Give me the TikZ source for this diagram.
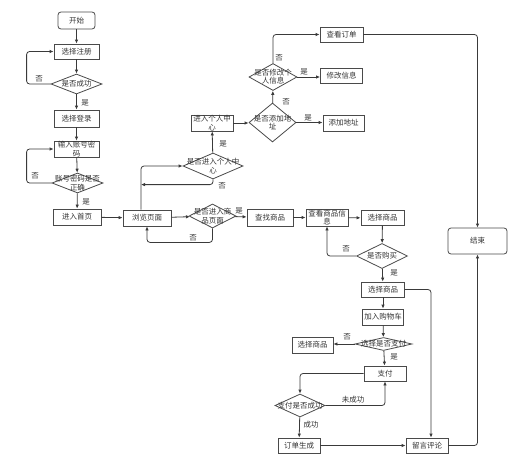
\documentclass[tikz,border=0pt]{standalone}
\usepackage{fontspec}
\newfontfamily\cjk{Noto Sans CJK SC}
\usetikzlibrary{shapes.geometric,arrows.meta}
\definecolor{ln}{HTML}{3A3A3A}
\definecolor{bx}{HTML}{4A4A4A}
\definecolor{tx}{HTML}{333333}
\begin{document}
\begin{tikzpicture}[x=1pt,y=-1pt,
  every node/.style={font=\cjk\fontsize{7.5}{8.3}\selectfont, text=tx},
  box/.style={draw=bx, line width=0.8pt, rectangle, inner sep=0pt, align=center},
  rbox/.style={box, rounded corners=3pt},
  dia/.style={draw=bx, line width=0.8pt, diamond, inner sep=0pt},
  dtxt/.style={inner sep=0pt, align=center},
  lab/.style={inner sep=0pt},
  conn/.style={draw=ln, line width=0.8pt, rounded corners=3pt, -{Latex[length=4pt,width=3.5pt]}}
]
\useasboundingbox (0,0) rectangle (531,463);

% left column
\node[rbox, minimum width=37pt, minimum height=17pt] (start) at (76.5,20.5) {开始};
\node[box, minimum width=45pt, minimum height=15pt] (reg) at (76.5,51.5) {选择注册};
\node[dia, minimum width=51pt, minimum height=20pt] (d1) at (76.5,84) {};
\node[dtxt] (d1t) at (d1) {是否成功};
\node[box, minimum width=45pt, minimum height=17pt] (login) at (76.5,118.5) {选择登录};
\node[box, minimum width=45pt, minimum height=16pt] (input) at (76.5,149) {输入账号密\\码};
\node[dia, minimum width=51pt, minimum height=20pt] (d2) at (77.5,183) {};
\node[dtxt] (d2t) at (d2) {账号密码是否\\正确};
\node[box, minimum width=48pt, minimum height=16pt] (home) at (77,217) {进入首页};

% middle
\node[box, minimum width=48pt, minimum height=16pt] (browse) at (147,218) {浏览页面};
\node[dia, minimum width=60pt, minimum height=26pt] (d3) at (213,166) {};
\node[dtxt] (d3t) at (d3) {是否进入个人中\\心};
\node[dia, minimum width=47pt, minimum height=24pt] (d4) at (212.5,216) {};
\node[dtxt] (d4t) at (d4) {是否进入商\\品页面};
\node[box, minimum width=46pt, minimum height=17pt] (find) at (270,217.5) {查找商品};
\node[box, minimum width=42pt, minimum height=17pt] (info) at (327,217.5) {查看商品信\\息};
\node[box, minimum width=43pt, minimum height=15pt] (sel1) at (382.5,218) {选择商品};
\node[dia, minimum width=51pt, minimum height=25pt] (d5) at (382,256) {};
\node[dtxt] (d5t) at (d5) {是否购买};
\node[box, minimum width=43pt, minimum height=15pt] (sel2) at (383,289.5) {选择商品};
\node[box, minimum width=41pt, minimum height=16pt] (cart) at (383,317) {加入购物车};
\node[dia, minimum width=57pt, minimum height=13pt] (d6) at (383.5,344) {};
\node[dtxt] (d6t) at (d6) {选择是否支付};
\node[box, minimum width=41pt, minimum height=16pt] (sel3) at (312.5,345) {选择商品};
\node[box, minimum width=42pt, minimum height=15pt] (pay) at (385,373.5) {支付};
\node[dia, minimum width=50pt, minimum height=23pt] (d7) at (300,405.5) {};
\node[dtxt] (d7t) at (d7) {支付是否成功};
\node[box, minimum width=42pt, minimum height=15pt] (order) at (299,445.5) {订单生成};
\node[box, minimum width=42pt, minimum height=15pt] (review) at (427,445.5) {留言评论};
\node[rbox, minimum width=59pt, minimum height=26pt] (end) at (477.5,241) {结束};

% upper
\node[box, minimum width=42pt, minimum height=16pt] (personal) at (212,123) {进入个人中\\心};
\node[dia, minimum width=47pt, minimum height=39pt] (d8) at (272.5,122.5) {};
\node[dtxt] (d8t) at (d8) {是否添加地\\址};
\node[dia, minimum width=48pt, minimum height=27pt] (d9) at (273,77) {};
\node[dtxt] (d9t) at (d9) {是否修改个\\人信息};
\node[box, minimum width=41pt, minimum height=16pt] (addaddr) at (343.5,123) {添加地址};
\node[box, minimum width=42pt, minimum height=15pt] (modify) at (341.5,76) {修改信息};
\node[box, minimum width=43pt, minimum height=15pt] (vieworder) at (341.5,34.5) {查看订单};

% connectors
\draw[conn] (start) -- (reg);
\draw[conn] (reg) -- (d1);
\draw[conn] (d1.west) -- ++(-24,0) |- (reg.west);
\node[lab] (l1) at (39,79) {否};
\draw[conn] (d1) -- (login);
\node[lab] (l2) at (85,103) {是};
\draw[conn] (login) -- (input);
\draw[conn] (input) -- (d2);
\draw[conn] (d2.west) -- ++(-25,0) |- (input.west);
\node[lab] (l3) at (35,176) {否};
\draw[conn] (d2) -- (home);
\node[lab] (l4) at (86,202) {是};
\draw[conn] (home) -- (browse);
\draw[conn] ([xshift=-6pt]browse.north) |- (d3.west);
\draw[conn] (d3.south) |- ([xshift=-6pt,yshift=25pt]browse.north);
\node[lab] (l5) at (222,186) {否};
\draw[conn] (browse) -- (d4);
\draw[conn] (d4.south) -- ++(0,14) -| (browse.south);
\node[lab] (l6) at (193,238) {否};
\draw[conn] (d4) -- (find);
\node[lab] (l7) at (239,211) {是};
\draw[conn] (find) -- (info);
\draw[conn] (info) -- (sel1);
\draw[conn] (sel1) -- (d5);
\draw[conn] (d5.west) -| (info.south);
\node[lab] (l8) at (346,249) {否};
\draw[conn] (d5) -- (sel2);
\node[lab] (l9) at (394,273) {是};
\draw[conn] (sel2.east) -| ([xshift=4pt]review.north);
\draw[conn] (sel2) -- (cart);
\draw[conn] (cart) -- (d6);
\draw[conn] (d6.west) -- (sel3.east |- d6.west);
\node[lab] (l10) at (347,337) {否};
\draw[conn] (d6) -- (pay);
\node[lab] (l11) at (394,357) {是};
\draw[conn] (pay.west) -| (d7.north);
\draw[conn] (d7.east) -| (pay.south);
\node[lab] (l12) at (353,400) {未成功};
\draw[conn] (d7) -- (order);
\node[lab] (l13) at (311,425) {成功};
\draw[conn] (order) -- (review);
\draw[conn] (review.east) -| (end.south);
\draw[conn] (d3) -- (personal);
\node[lab] (l14) at (223,144) {是};
\draw[conn] (personal.east) -- (d8.west |- personal.east);
\draw[conn] (d8.east) -- (addaddr.west |- d8.east);
\node[lab] (l15) at (308,118) {是};
\draw[conn] (d8) -- (d9);
\node[lab] (l16) at (286,102) {否};
\draw[conn] (d9.east) -- (modify.west |- d9.east);
\node[lab] (l17) at (304,72) {是};
\draw[conn] (d9.north) |- (vieworder.west);
\node[lab] (l18) at (279,58) {否};
\draw[conn] (vieworder.east) -| (end.north);
\end{tikzpicture}
\end{document}
